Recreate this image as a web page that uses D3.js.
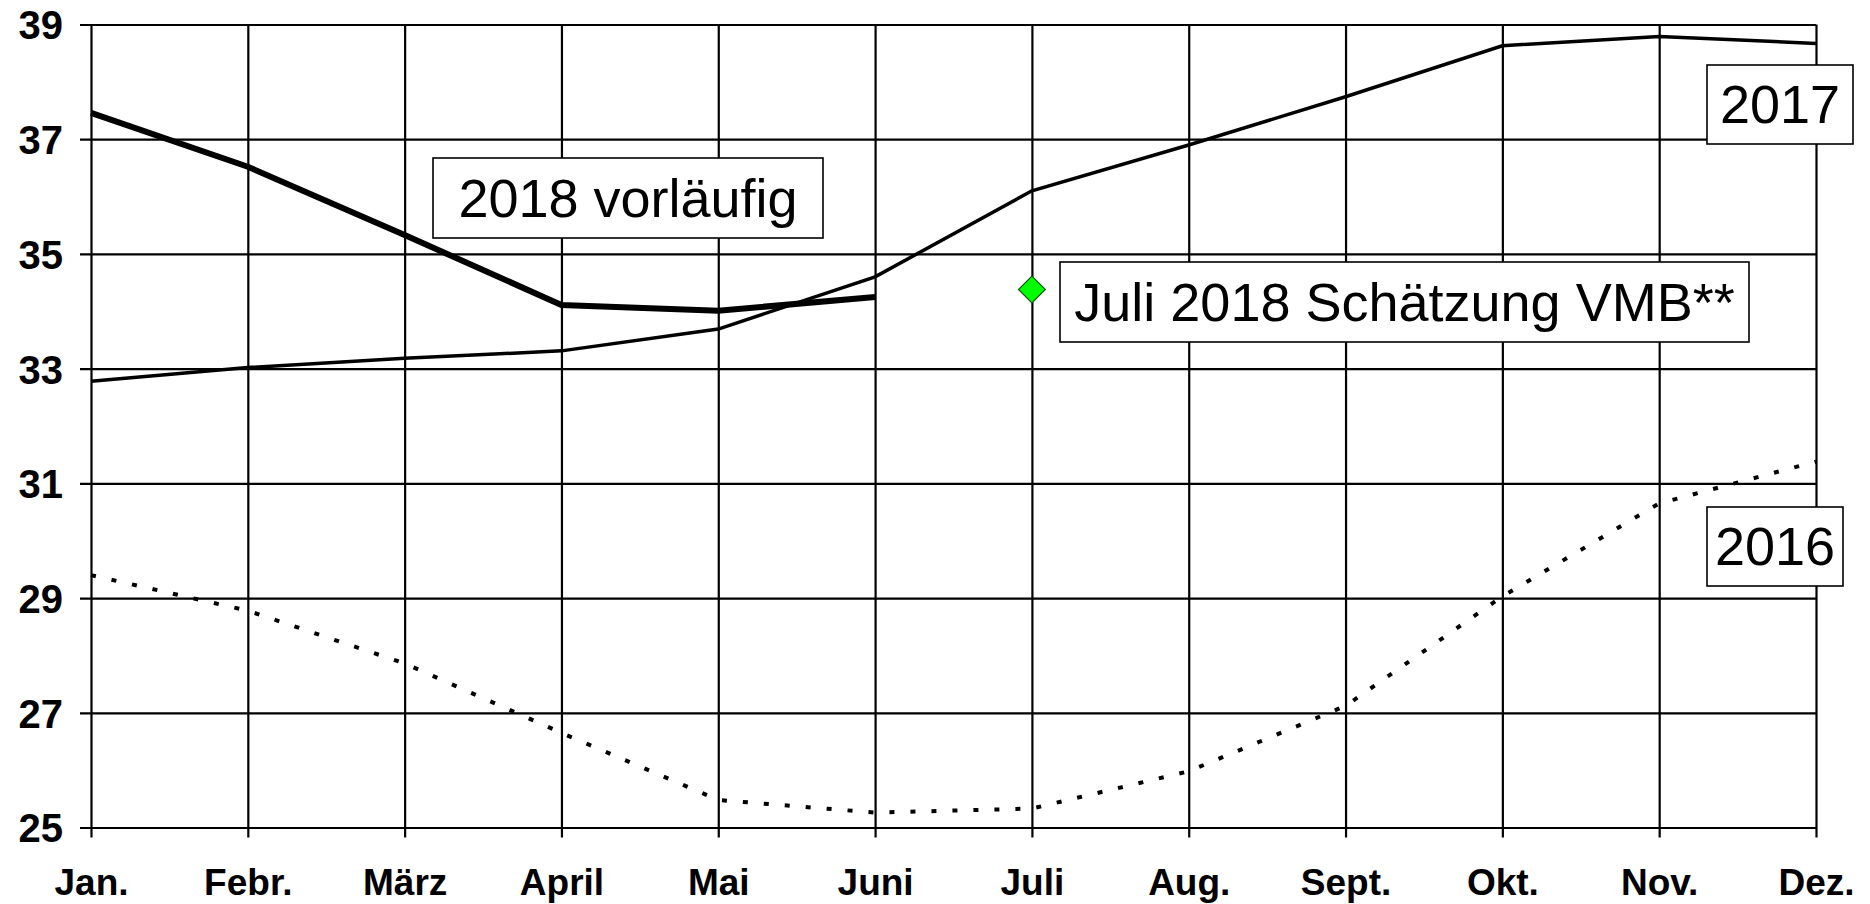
<!DOCTYPE html>
<html>
<head>
<meta charset="utf-8">
<script src="https://cdn.jsdelivr.net/npm/d3@7"></script>
<style>
  html, body { margin: 0; padding: 0; background: #fff; }
  svg { display: block; }
  .tick text { font-family: "Liberation Sans", Arial, sans-serif; font-weight: bold; font-size: 37px; fill: #000; }
  .ylab .tick text { font-size: 40px; }
  .ann { font-family: "Liberation Sans", Arial, sans-serif; font-size: 54px; fill: #000; }
</style>
</head>
<body>
<script>
const months = ["Jan.", "Febr.", "März", "April", "Mai", "Juni", "Juli", "Aug.", "Sept.", "Okt.", "Nov.", "Dez."];
const yTicks = [25, 27, 29, 31, 33, 35, 37, 39];
const values2016 = [29.4, 28.78, 27.86, 26.65, 25.48, 25.26, 25.33, 25.98, 27.12, 29.03, 30.65, 31.38];
const values2017 = [32.78, 33.02, 33.18, 33.31, 33.69, 34.6, 36.1, 36.9, 37.74, 38.63, 38.79, 38.67];
const values2018 = [37.46, 36.52, 35.33, 34.11, 34.01, 34.25];
const estimateMonth = "Juli";
const estimateValue = 34.38;

const W = 1870, H = 904;
const svg = d3.select("body").append("svg").attr("width", W).attr("height", H);

const x = d3.scalePoint().domain(months).range([91, 1816]);
const y = d3.scaleLinear().domain([25, 39]).range([827.5, 24.5]);

// vertical grid + bottom labels
const xAxis = d3.axisBottom(x).tickSizeInner(-(y(25) + 10 - y(39))).tickSizeOuter(0).tickPadding(31);
const gx = svg.append("g").attr("transform", `translate(0,${y(25) + 10})`).call(xAxis);
gx.select(".domain").remove();
gx.selectAll(".tick line").attr("stroke", "#000").attr("stroke-width", 2.2);

// horizontal grid + left labels
const yAxis = d3.axisLeft(y).tickValues(yTicks).tickSizeInner(-(x("Dez.") - 80)).tickSizeOuter(0).tickPadding(17).tickFormat(d3.format("d"));
const gy = svg.append("g").attr("class", "ylab").attr("transform", "translate(80,0)").call(yAxis);
gy.select(".domain").remove();
gy.selectAll(".tick line").attr("stroke", "#000").attr("stroke-width", 2.2);
gy.selectAll(".tick text").attr("dy", "0.36em");

const line = d3.line().x((d, i) => x(months[i])).y(d => y(d));

svg.append("path").datum(values2016).attr("d", line)
  .attr("fill", "none").attr("stroke", "#000").attr("stroke-width", 4)
  .attr("stroke-dasharray", "5,16");
svg.append("path").datum(values2017).attr("d", line)
  .attr("fill", "none").attr("stroke", "#000").attr("stroke-width", 3.5);
svg.append("path").datum(values2018).attr("d", line)
  .attr("fill", "none").attr("stroke", "#000").attr("stroke-width", 6);

// estimate marker
svg.append("path")
  .attr("d", d3.symbol().type(d3.symbolDiamond2).size(460)())
  .attr("transform", `translate(${x(estimateMonth)},${y(estimateValue)})`)
  .attr("fill", "#00ff00").attr("stroke", "#145214").attr("stroke-width", 1.2);

// annotation boxes
function ann(x0, y0, w, h, txt, base) {
  svg.append("rect").attr("x", x0).attr("y", y0).attr("width", w).attr("height", h)
    .attr("fill", "#fff").attr("stroke", "#000").attr("stroke-width", 1.6);
  svg.append("text").attr("class", "ann").attr("x", x0 + w / 2).attr("y", base)
    .attr("text-anchor", "middle").text(txt);
}
ann(433, 158, 390, 80, "2018 vorläufig", 217);
ann(1707, 65, 146, 79, "2017", 123);
ann(1707, 507, 136, 79, "2016", 565);
ann(1060, 262, 689, 80, "Juli 2018 Schätzung VMB**", 321);
</script>
</body>
</html>
